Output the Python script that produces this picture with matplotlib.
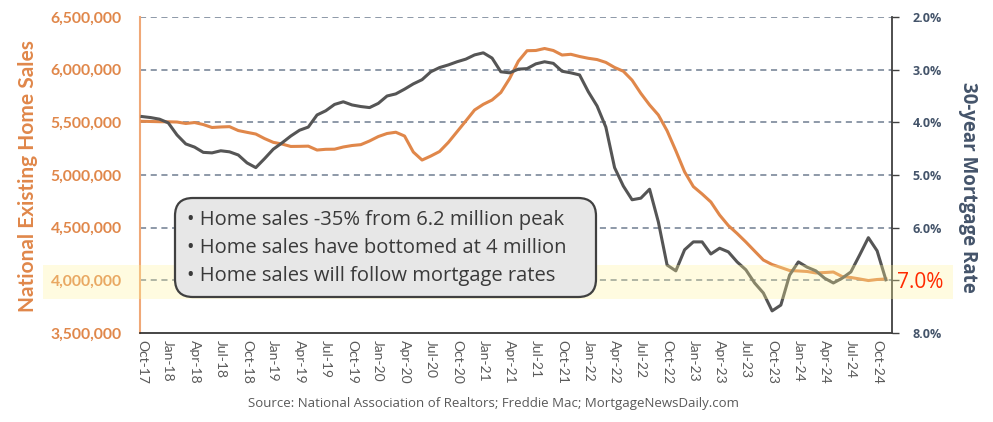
import matplotlib
matplotlib.use('Agg')
import matplotlib.pyplot as plt
from matplotlib.patches import Rectangle, FancyBboxPatch
import numpy as np

# monthly data Oct-17 .. Nov-24
home_sales = [5510, 5508, 5506, 5505, 5503, 5489, 5498, 5479, 5451, 5456,
              5459, 5422, 5405, 5389, 5346, 5310, 5294, 5271, 5272, 5274,
              5237, 5244, 5245, 5266, 5280, 5288, 5323, 5365, 5394, 5406,
              5370, 5218, 5142, 5180, 5223, 5309, 5411, 5513, 5617, 5671,
              5712, 5783, 5915, 6080, 6180, 6182, 6201, 6182, 6139, 6146,
              6125, 6108, 6096, 6069, 6021, 5985, 5900, 5775, 5665, 5570,
              5420, 5230, 5030, 4890, 4820, 4744, 4620, 4520, 4445, 4364,
              4278, 4193, 4150, 4122, 4093, 4089, 4084, 4070, 4074, 4079,
              4036, 4027, 4013, 3998, 4008, 4013]
mortgage_rate = [3.89, 3.91, 3.94, 4.01, 4.24, 4.41, 4.47, 4.57, 4.58, 4.54,
                 4.56, 4.62, 4.77, 4.86, 4.69, 4.51, 4.39, 4.26, 4.15, 4.09,
                 3.86, 3.78, 3.66, 3.61, 3.67, 3.70, 3.72, 3.64, 3.50, 3.46,
                 3.37, 3.27, 3.19, 3.04, 2.96, 2.91, 2.85, 2.80, 2.72, 2.68,
                 2.78, 3.04, 3.06, 2.99, 2.98, 2.89, 2.85, 2.88, 3.03, 3.06,
                 3.10, 3.42, 3.69, 4.09, 4.86, 5.21, 5.47, 5.44, 5.27, 5.89,
                 6.71, 6.82, 6.42, 6.27, 6.27, 6.50, 6.39, 6.46, 6.65, 6.80,
                 7.05, 7.24, 7.58, 7.47, 6.90, 6.65, 6.75, 6.82, 6.96, 7.05,
                 6.96, 6.84, 6.52, 6.19, 6.44, 6.99]
tick_labels = ['Oct-17', 'Jan-18', 'Apr-18', 'Jul-18', 'Oct-18', 'Jan-19', 'Apr-19',
               'Jul-19', 'Oct-19', 'Jan-20', 'Apr-20', 'Jul-20', 'Oct-20', 'Jan-21',
               'Apr-21', 'Jul-21', 'Oct-21', 'Jan-22', 'Apr-22', 'Jul-22', 'Oct-22',
               'Jan-23', 'Apr-23', 'Jul-23', 'Oct-23', 'Jan-24', 'Apr-24', 'Jul-24',
               'Oct-24']
sales_ticks = [3500000, 4000000, 4500000, 5000000, 5500000, 6000000, 6500000]
rate_ticks = [2, 3, 4, 5, 6, 7, 8]
bullets = ['Home sales -35% from 6.2 million peak',
           'Home sales have bottomed at 4 million',
           'Home sales will follow mortgage rates']

ORANGE = '#E0874A'
DARK = '#555555'
SLATE = '#44546A'

W, H = 993, 422
def fx(x): return x / W
def fy(y): return 1 - y / H

fig = plt.figure(figsize=(9.93, 4.22), dpi=100)
ax = fig.add_axes([fx(140), fy(333), fx(892) - fx(140), fy(17) - fy(333)])
ax2 = ax.twinx()

months = np.arange(len(home_sales))
ax.plot(months, np.array(home_sales) * 1000, color=ORANGE, lw=2.2, zorder=3)
ax2.plot(months, mortgage_rate, color=DARK, lw=2.2, zorder=3)

ax.set_xlim(-0.23, 85.7)
ax.set_ylim(3500000, 6500000)
ax2.set_ylim(8, 2)

ax.set_yticks(sales_ticks)
ax.set_yticklabels([f'{v:,}' for v in sales_ticks], fontsize=11.3, fontweight='bold',
                   color=ORANGE, family='Lato')
ax.tick_params(axis='y', length=0, pad=13)
for v in sales_ticks[1:]:
    ax.axhline(v, color='#6F7D91', lw=1.1, ls=(0, (4, 3)), zorder=1)

# the 7% label is drawn separately in red
ax2.set_yticks(rate_ticks)
ax2.set_yticklabels(['' if v == 7 else f'{v:.1f}%' for v in rate_ticks], fontsize=9,
                    fontweight='bold', color=SLATE, family='Open Sans')
ax2.tick_params(axis='y', length=5, width=1, color='#404040', pad=10)

ax.set_xticks(months[::3])
ax.set_xticklabels(tick_labels, rotation=-90, fontsize=10, color='#595959', family='Lato')
ax.tick_params(axis='x', length=0, pad=5)

for a in (ax, ax2):
    a.spines['top'].set_visible(False)
ax.spines['left'].set_color('#F0A877')
ax.spines['left'].set_linewidth(1.5)
ax2.spines['left'].set_visible(False)
ax.spines['right'].set_visible(False)
ax2.spines['right'].set_color('#404040')
ax2.spines['right'].set_linewidth(1.3)
ax.spines['bottom'].set_color('#262626')
ax.spines['bottom'].set_linewidth(1.2)
ax2.spines['bottom'].set_visible(False)

fig.text(fx(28), fy(176), 'National Existing Home Sales', rotation=90, ha='center',
         va='center', fontsize=15, fontweight='bold', color=ORANGE, family='Lato')
fig.text(fx(968), fy(187), '30-year Mortgage Rate', rotation=270, ha='center',
         va='center', fontsize=13.5, fontweight='bold', color=SLATE, family='Open Sans')

# yellow highlight band around 7% / 4 million
fig.add_artist(Rectangle((fx(43), fy(299)), fx(953) - fx(43), fy(265) - fy(299),
                         transform=fig.transFigure, facecolor='#FFF59A', alpha=0.3,
                         edgecolor='none', zorder=5))
fig.text(fx(897), fy(282), '7.0%', ha='left', va='center', fontsize=15,
         color='#FF2A00', family='Open Sans', zorder=6)

# annotation box
fig.add_artist(FancyBboxPatch((fx(175), fy(297)), fx(596) - fx(175), fy(198) - fy(297),
                              boxstyle='round,pad=0,rounding_size=0.018',
                              transform=fig.transFigure, facecolor='#E7E7E7',
                              edgecolor='#404040', lw=1.6, zorder=7,
                              mutation_aspect=2.35))
for i, b in enumerate(bullets):
    fig.text(fx(187), fy(220 + 28 * i), '\u2022 ' + b, ha='left', va='center',
             fontsize=14.5, color='#3A3A3A', family='Open Sans', zorder=8)

fig.text(fx(493), fy(404), 'Source: National Association of Realtors; Freddie Mac; MortgageNewsDaily.com',
         ha='center', va='center', fontsize=9.5, color='#595959', family='Open Sans')

fig.savefig('out.png', dpi=100)
